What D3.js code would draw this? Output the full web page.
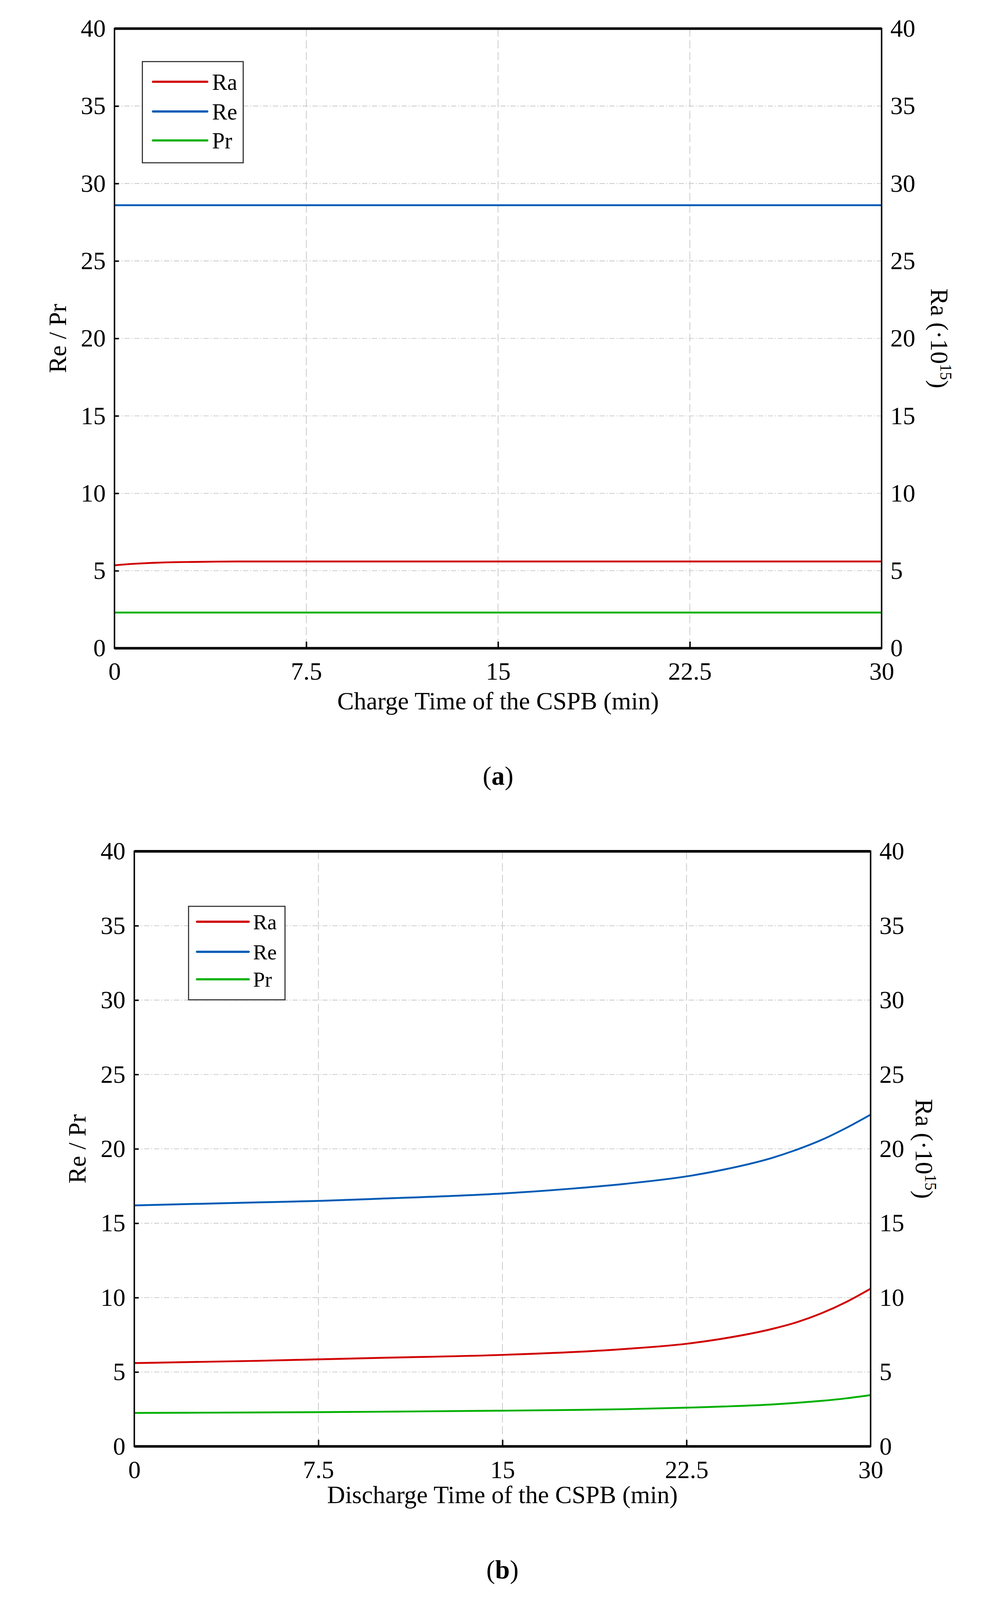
<!DOCTYPE html><html><head><meta charset="utf-8"><script src="https://cdn.jsdelivr.net/npm/d3@7"></script>
<style>html,body{margin:0;padding:0;background:#fff;overflow:hidden;width:100%;height:100%}svg{display:block}text{font-family:"Liberation Serif","Times New Roman",serif}</style></head><body>
<svg id="s" viewBox="0 0 2575 4364" preserveAspectRatio="xMidYMid meet" style="width:100vw;height:100vh"></svg>
<script>
const xTicks=[0,7.5,15,22.5,30];
const yTicks=[0,5,10,15,20,25,30,35,40];
const seriesNames=["Ra","Re","Pr"];
const colors={Ra:"#d00000",Re:"#005bb5",Pr:"#00b000"};
// panel a (charge)
const aT=[0,0.5,1,1.5,2,3,4,5,6,8,10,15,20,25,30];
const aRa=[5.35,5.42,5.47,5.51,5.54,5.57,5.59,5.6,5.6,5.6,5.6,5.6,5.6,5.6,5.6];
const aRe=[28.6,28.6,28.6,28.6,28.6,28.6,28.6,28.6,28.6,28.6,28.6,28.6,28.6,28.6,28.6];
const aPr=[2.3,2.3,2.3,2.3,2.3,2.3,2.3,2.3,2.3,2.3,2.3,2.3,2.3,2.3,2.3];
// panel b (discharge)
const bT=[0,5,7.5,10,15,18,20,22.5,24,26,27,28,29,30];
const bRa=[5.6,5.75,5.85,5.95,6.15,6.35,6.55,6.9,7.25,7.9,8.35,8.95,9.7,10.6];
const bRe=[16.2,16.4,16.5,16.65,17.0,17.35,17.65,18.15,18.6,19.4,19.95,20.6,21.4,22.3];
const bPr=[2.25,2.28,2.3,2.33,2.4,2.45,2.5,2.6,2.68,2.82,2.93,3.06,3.23,3.45];

const svg=d3.select("#s");
function panel(o){
  const x=d3.scaleLinear().domain([0,30]).range([o.l,o.r]);
  const y=d3.scaleLinear().domain([0,40]).range([o.b,o.t]);
  const g=svg.append("g");
  g.selectAll(".hg").data(yTicks.slice(1,-1)).join("line").attr("x1",o.l).attr("x2",o.r).attr("y1",d=>y(d)).attr("y2",d=>y(d)).attr("stroke","#c8c8c8").attr("stroke-width",2).attr("stroke-dasharray","14,5,3,5");
  g.selectAll(".vg").data(xTicks.slice(1,-1)).join("line").attr("y1",o.t).attr("y2",o.b).attr("x1",d=>x(d)).attr("x2",d=>x(d)).attr("stroke","#c8c8c8").attr("stroke-width",2).attr("stroke-dasharray","22,10");
  const data=[["Ra",o.ra],["Re",o.re],["Pr",o.pr]];
  const line=d3.line().x((d,i)=>x(o.t0[i])).y(d=>y(d)).curve(d3.curveMonotoneX);
  g.selectAll(".ln").data(data).join("path").attr("d",d=>line(d[1])).attr("fill","none").attr("stroke",d=>colors[d[0]]).attr("stroke-width",5);
  g.append("rect").attr("x",o.l).attr("y",o.t).attr("width",o.r-o.l).attr("height",o.b-o.t).attr("fill","none").attr("stroke","#000").attr("stroke-width",4);
  g.append("line").attr("x1",o.l).attr("x2",o.r).attr("y1",o.t).attr("y2",o.t).attr("stroke","#000").attr("stroke-width",7);
  g.append("line").attr("x1",o.l).attr("x2",o.r).attr("y1",o.b).attr("y2",o.b).attr("stroke","#000").attr("stroke-width",7);
  const fs=68;
  const ax=g.append("g").attr("transform",`translate(0,${o.b})`).call(d3.axisBottom(x).tickValues(xTicks).tickSize(-18).tickPadding(o.xpad).tickFormat(d=>d));
  const ay=g.append("g").attr("transform",`translate(${o.l},0)`).call(d3.axisLeft(y).tickValues(yTicks).tickSize(-12).tickPadding(o.ypad));
  const ar=g.append("g").attr("transform",`translate(${o.r},0)`).call(d3.axisRight(y).tickValues(yTicks).tickSize(0).tickPadding(o.ypad));
  [ax,ay,ar].forEach(a=>{a.select(".domain").remove();a.selectAll("line").attr("stroke","#000").attr("stroke-width",4);a.selectAll("text").attr("font-size",fs).attr("fill","#000").style("font-family","Liberation Serif");});
  ax.selectAll("line").filter(d=>d===0||d===30).remove();
  ay.selectAll("line").filter(d=>d===0||d===40).remove();
  g.append("text").attr("x",(o.l+o.r)/2).attr("y",o.xt).attr("text-anchor","middle").attr("font-size",fs).text(o.xlab);
  g.append("text").attr("transform",`translate(${o.ylx},${(o.t+o.b)/2}) rotate(-90)`).attr("text-anchor","middle").attr("dy","0.35em").attr("font-size",fs).text("Re / Pr");
  const rt=g.append("text").attr("transform",`translate(${o.yrx},${(o.t+o.b)/2}) rotate(90)`).attr("text-anchor","middle").attr("dy","0.35em").attr("font-size",fs);
  rt.append("tspan").text("Ra (·10");rt.append("tspan").attr("font-size",44).attr("dy",-26).text("15");rt.append("tspan").attr("dy",26).text(")");
  const lab=g.append("text").attr("x",(o.l+o.r)/2).attr("y",o.lab).attr("text-anchor","middle").attr("font-size",72);
  lab.append("tspan").text("(");lab.append("tspan").attr("font-weight","bold").text(o.letter);lab.append("tspan").text(")");
  const L=o.leg;
  g.append("rect").attr("x",L.x0).attr("y",L.y0).attr("width",L.x1-L.x0).attr("height",L.y1-L.y0).attr("fill","#fff").attr("stroke","#333").attr("stroke-width",3);
  seriesNames.forEach((n,i)=>{
    g.append("line").attr("x1",L.lx0).attr("x2",L.lx1).attr("y1",L.rows[i]).attr("y2",L.rows[i]).attr("stroke",colors[n]).attr("stroke-width",6).attr("stroke-linecap","round");
    g.append("text").attr("x",L.tx).attr("y",L.rows[i]).attr("dy","0.35em").attr("font-size",L.fs).text(n);
  });
}
panel({l:228,r:2320,t:78,b:1768,t0:aT,ra:aRa,re:aRe,pr:aPr,xpad:38,ypad:24,xt:1935,ylx:72,yrx:2478,lab:2140,letter:"a",xlab:"Charge Time of the CSPB (min)",
  leg:{x0:304,x1:579,y0:168,y1:444,lx0:333,lx1:481,rows:[223,304,383],tx:494,fs:62}});
panel({l:282,r:2290,t:2322,b:3945,t0:bT,ra:bRa,re:bRe,pr:bPr,xpad:38,ypad:24,xt:4100,ylx:125,yrx:2437,lab:4305,letter:"b",xlab:"Discharge Time of the CSPB (min)",
  leg:{x0:430,x1:693,y0:2472,y1:2727,lx0:453,lx1:594,rows:[2514,2596,2671],tx:606,fs:58}});
</script></body></html>
